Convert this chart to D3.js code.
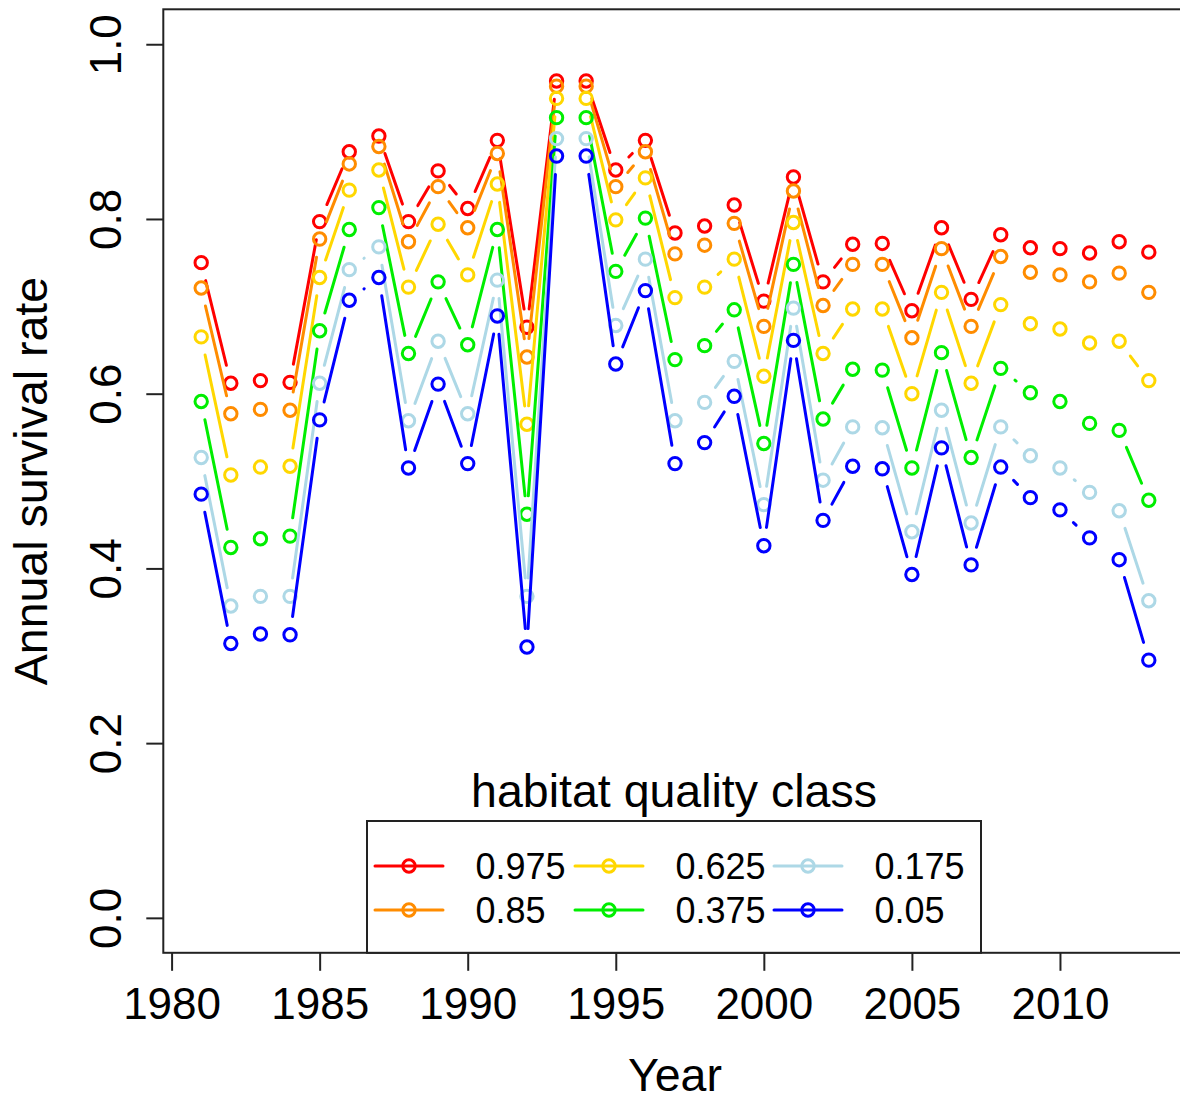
<!DOCTYPE html>
<html>
<head>
<meta charset="utf-8">
<title>Annual survival rate by habitat quality class</title>
<script src="https://cdn.jsdelivr.net/npm/d3@7"></script>
<style>
  body { margin: 0; background: #fff; }
  svg { display: block; }
  text { font-family: "Liberation Sans", Arial, Helvetica, sans-serif; fill: #000; }
</style>
</head>
<body>
<svg id="chart" width="1180" height="1100"></svg>
<script>
// Survey years
const years = [1981, 1982, 1983, 1984, 1985, 1986, 1987, 1988, 1989, 1990, 1991,
               1992, 1993, 1994, 1995, 1996, 1997, 1998, 1999, 2000, 2001, 2002,
               2003, 2004, 2005, 2006, 2007, 2008, 2009, 2010, 2011, 2012, 2013];

// Annual survival rate per habitat quality class
const hq0975 = [0.750, 0.612, 0.615, 0.613, 0.797, 0.877, 0.895, 0.797, 0.855, 0.812, 0.890,
                0.676, 0.958, 0.958, 0.856, 0.890, 0.784, 0.792, 0.816, 0.706, 0.848, 0.728,
                0.771, 0.772, 0.695, 0.790, 0.708, 0.782, 0.767, 0.766, 0.761, 0.774, 0.762];
const hq085  = [0.721, 0.577, 0.582, 0.581, 0.777, 0.863, 0.883, 0.774, 0.837, 0.790, 0.875,
                0.642, 0.952, 0.952, 0.837, 0.877, 0.760, 0.770, 0.795, 0.677, 0.832, 0.701,
                0.748, 0.748, 0.664, 0.766, 0.677, 0.757, 0.739, 0.736, 0.728, 0.738, 0.716];
const hq0625 = [0.665, 0.507, 0.516, 0.517, 0.733, 0.833, 0.856, 0.722, 0.794, 0.736, 0.840,
                0.565, 0.938, 0.938, 0.799, 0.847, 0.710, 0.722, 0.754, 0.620, 0.796, 0.646,
                0.697, 0.697, 0.600, 0.716, 0.612, 0.702, 0.680, 0.674, 0.658, 0.660, 0.615];
const hq0375 = [0.591, 0.424, 0.434, 0.437, 0.672, 0.788, 0.813, 0.646, 0.728, 0.656, 0.788,
                0.462, 0.916, 0.916, 0.740, 0.801, 0.639, 0.655, 0.696, 0.543, 0.748, 0.571,
                0.628, 0.627, 0.515, 0.647, 0.527, 0.629, 0.601, 0.591, 0.566, 0.558, 0.478];
const hq0175 = [0.527, 0.357, 0.368, 0.368, 0.612, 0.742, 0.768, 0.569, 0.660, 0.577, 0.730,
                0.368, 0.892, 0.892, 0.678, 0.754, 0.569, 0.590, 0.637, 0.473, 0.698, 0.501,
                0.562, 0.561, 0.442, 0.581, 0.452, 0.562, 0.529, 0.515, 0.487, 0.466, 0.363];
const hq005  = [0.485, 0.314, 0.325, 0.324, 0.570, 0.707, 0.733, 0.515, 0.611, 0.520, 0.689,
                0.310, 0.872, 0.872, 0.634, 0.718, 0.520, 0.544, 0.597, 0.426, 0.661, 0.455,
                0.517, 0.514, 0.393, 0.538, 0.404, 0.516, 0.481, 0.467, 0.435, 0.410, 0.295];

const classLabels = ["0.975", "0.85", "0.625", "0.375", "0.175", "0.05"];
const classColors = ["#FF0000", "#FF8C00", "#FFD700", "#00EE00", "#ADD8E6", "#0000FF"];
const classValues = [hq0975, hq085, hq0625, hq0375, hq0175, hq005];

const xTickValues = [1980, 1985, 1990, 1995, 2000, 2005, 2010];
const yTickValues = [0.0, 0.2, 0.4, 0.6, 0.8, 1.0];

// ---- layout ----
const plot = { left: 163.3, right: 1186.7, top: 9.3, bottom: 952.8 };
const x = d3.scaleLinear().domain([1979.72, 2014.28]).range([plot.left, plot.right]);
const y = d3.scaleLinear().domain([-0.04, 1.04]).range([plot.bottom, plot.top]);

const svg = d3.select("#chart");
const LW = 3;          // line / symbol stroke width
const R = 6.2;         // symbol radius
const GAP = 18.5;      // gap left around each symbol on the connecting lines
const TITLE_SIZE = 46.5;
const TICK_SIZE = 44;
const LEGEND_SIZE = 36;

// "both" style: segments between points, trimmed back from each symbol
function gappedSegments(xs, vs) {
  const segs = [];
  for (let i = 0; i < xs.length - 1; i++) {
    const x0 = x(xs[i]), y0 = y(vs[i]);
    const x1 = x(xs[i + 1]), y1 = y(vs[i + 1]);
    const d = Math.hypot(x1 - x0, y1 - y0);
    if (d > 2 * GAP) {
      const ux = (x1 - x0) / d, uy = (y1 - y0) / d;
      segs.push([x0 + ux * GAP, y0 + uy * GAP, x1 - ux * GAP, y1 - uy * GAP]);
    }
  }
  return segs;
}

const series = svg.append("g").attr("class", "series");
classValues.forEach((vals, k) => {
  const g = series.append("g").attr("stroke", classColors[k]);
  g.selectAll("line")
    .data(gappedSegments(years, vals))
    .join("line")
    .attr("x1", d => d[0]).attr("y1", d => d[1])
    .attr("x2", d => d[2]).attr("y2", d => d[3])
    .attr("stroke-width", LW)
    .attr("stroke-linecap", "round");
  g.selectAll("circle")
    .data(vals.map((v, i) => [years[i], v]))
    .join("circle")
    .attr("cx", d => x(d[0]))
    .attr("cy", d => y(d[1]))
    .attr("r", R)
    .attr("fill", "none")
    .attr("stroke-width", LW);
});

// ---- axes ----
const axisColor = "#222";
const xAxis = d3.axisBottom(x).tickValues(xTickValues).tickSize(18).tickFormat(d3.format("d"));
const gx = svg.append("g").attr("transform", `translate(0,${plot.bottom})`).call(xAxis);
gx.select(".domain").remove();
gx.selectAll(".tick line").attr("stroke", axisColor).attr("stroke-width", 2);
gx.selectAll(".tick text")
  .attr("y", 66.3).attr("dy", 0)
  .attr("font-size", TICK_SIZE)
  .attr("font-family", "Liberation Sans, Arial, sans-serif")
  .attr("fill", "#000");

const yAxis = d3.axisLeft(y).tickValues(yTickValues).tickSize(17).tickFormat(d3.format(".1f"));
const gy = svg.append("g").attr("transform", `translate(${plot.left},0)`).call(yAxis);
gy.select(".domain").remove();
gy.selectAll(".tick line").attr("stroke", axisColor).attr("stroke-width", 2);
gy.selectAll(".tick text")
  .attr("transform", "rotate(-90)")
  .attr("x", 0).attr("y", -42.6).attr("dy", 0)
  .attr("text-anchor", "middle")
  .attr("font-size", TICK_SIZE)
  .attr("font-family", "Liberation Sans, Arial, sans-serif")
  .attr("fill", "#000");

// plot frame
svg.append("rect")
  .attr("x", plot.left).attr("y", plot.top)
  .attr("width", plot.right - plot.left).attr("height", plot.bottom - plot.top)
  .attr("fill", "none").attr("stroke", axisColor).attr("stroke-width", 2);

// axis titles
svg.append("text")
  .attr("x", 675).attr("y", 1091)
  .attr("text-anchor", "middle").attr("font-size", TITLE_SIZE)
  .text("Year");
svg.append("text")
  .attr("transform", `translate(47,${(plot.top + plot.bottom) / 2}) rotate(-90)`)
  .attr("text-anchor", "middle").attr("font-size", TITLE_SIZE)
  .text("Annual survival rate");

// ---- legend ----
const legend = svg.append("g").attr("class", "legend");
legend.append("rect")
  .attr("x", 367).attr("y", 821)
  .attr("width", 981 - 367).attr("height", plot.bottom - 821)
  .attr("fill", "#fff").attr("stroke", axisColor).attr("stroke-width", 2);
legend.append("text")
  .attr("x", 674).attr("y", 807)
  .attr("text-anchor", "middle").attr("font-size", TITLE_SIZE)
  .text("habitat quality class");

const colX = [375, 575, 774];
const rowY = [866, 910];
classLabels.forEach((lab, k) => {
  const col = Math.floor(k / 2), row = k % 2;
  const lx = colX[col], ly = rowY[row];
  const item = legend.append("g").attr("stroke", classColors[k]);
  item.append("line")
    .attr("x1", lx).attr("x2", lx + 68).attr("y1", ly).attr("y2", ly)
    .attr("stroke-width", LW).attr("stroke-linecap", "round");
  item.append("circle")
    .attr("cx", lx + 34).attr("cy", ly).attr("r", R)
    .attr("fill", "none").attr("stroke-width", LW);
  legend.append("text")
    .attr("x", lx + 100.5).attr("y", ly + 12.9)
    .attr("font-size", LEGEND_SIZE)
    .text(lab);
});
</script>
</body>
</html>
